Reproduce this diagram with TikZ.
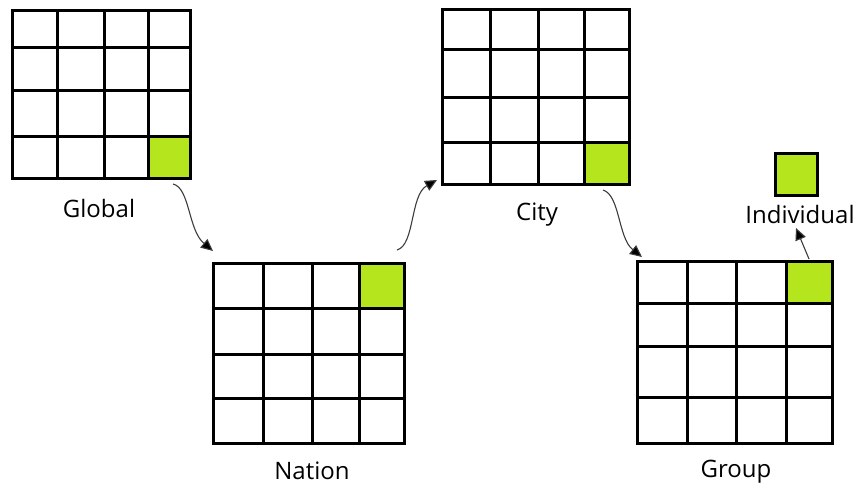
\documentclass[tikz,border=0pt]{standalone}
\usepackage{fontspec}
\setmainfont{Open Sans}
\usetikzlibrary{arrows.meta}
\definecolor{lime}{RGB}{181,230,29}
\definecolor{wire}{RGB}{60,60,60}
\tikzset{
  gridline/.style={line width=3pt, black},
  greencell/.style={draw=none, fill=lime, inner sep=0pt, minimum width=44pt, minimum height=43pt},
  lbl/.style={font=\fontsize{24}{28}\selectfont, inner sep=0pt},
  conn/.style={draw=wire, line width=1.1pt, -{Triangle[length=12pt,width=11pt,fill=black]}},
}
\begin{document}
\begin{tikzpicture}[x=1pt,y=-1pt]
\useasboundingbox (0,0) rectangle (856,487);

% --- Global grid ---
\node[greencell] (gGlobal) at (169,157) {};
\foreach \x in {57,104,148} \draw[gridline] (\x,11) -- (\x,178);
\foreach \y in {48,90,136} \draw[gridline] (12,\y) -- (190,\y);
\draw[gridline] (12,11) rectangle (190,178);
\node[lbl] (tGlobal) at (99,208) {Global};

% --- Nation grid ---
\node[greencell] (gNation) at (381.5,285.5) {};
\foreach \x in {263,312,359} \draw[gridline] (\x,263) -- (\x,443);
\foreach \y in {308,354,398} \draw[gridline] (213,\y) -- (404,\y);
\draw[gridline] (213,263) rectangle (404,443);
\node[lbl] (tNation) at (312,471) {Nation};

% --- City grid ---
\node[greencell] (gCity) at (606.5,163) {};
\foreach \x in {490,538,584} \draw[gridline] (\x,10) -- (\x,184);
\foreach \y in {50,97,142} \draw[gridline] (442,\y) -- (629,\y);
\draw[gridline] (442,10) rectangle (629,184);
\node[lbl] (tCity) at (537,215) {City};

% --- Group grid ---
\node[greencell] (gGroup) at (809,282) {};
\foreach \x in {687,736,786} \draw[gridline] (\x,261) -- (\x,443);
\foreach \y in {303,346,397} \draw[gridline] (637,\y) -- (832,\y);
\draw[gridline] (637,261) rectangle (832,443);
\node[lbl] (tGroup) at (736,472) {Group};

% --- Individual cell ---
\node[greencell, draw=black, line width=3pt, minimum width=42pt, minimum height=42pt] (gInd) at (796,174) {};
\node[lbl] (tInd) at (800,214) {Individual};

% --- connectors ---
\coordinate (a1s) at (173,184);
\coordinate (a1e) at (213,251);
\coordinate (a2s) at (397,250);
\coordinate (a2e) at (437,180);
\coordinate (a3s) at (603,190);
\coordinate (a3e) at (642,257);
\coordinate (a4s) at (809,259);
\coordinate (a4e) at (796,228);

\draw[conn] (a1s) .. controls (190,188) and (188,230) .. (a1e);
\draw[conn] (a2s) .. controls (415,245) and (410,195) .. (a2e);
\draw[conn] (a3s) .. controls (620,195) and (618,238) .. (a3e);
\draw[conn] (a4s) -- (a4e);
\end{tikzpicture}
\end{document}
